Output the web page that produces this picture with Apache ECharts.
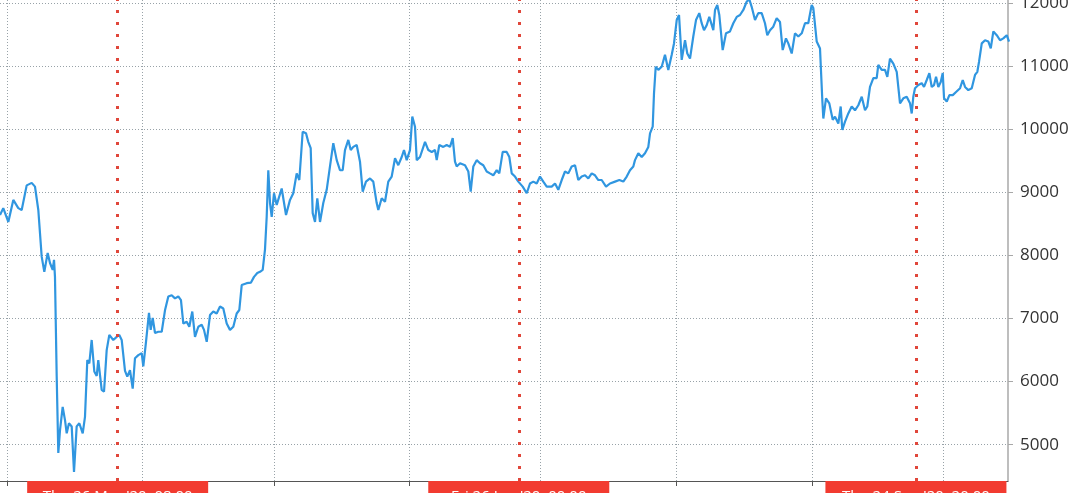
<!DOCTYPE html>
<html><head><meta charset="utf-8">
<script src="https://cdn.jsdelivr.net/npm/echarts@6/dist/echarts.min.js"></script>
<style>html,body{margin:0;padding:0;background:#fff;overflow:hidden}#c{width:1080px;height:493px}</style>
</head><body><div id="c"></div>
<script>
// days since 2020-03-01 00:00 (local)
const days = [
-1.60,-0.85,0.30,1.44,2.58,3.36,4.50,5.65,6.40,7.16,7.93,8.53,9.30,9.83,10.45,10.75,10.97,11.36,11.73,12.12,12.73,13.26,13.65,14.17,14.79,15.32,15.93,16.53,17.31,17.83,18.36,18.82,19.36,19.96,20.51,20.87,21.65,22.18,22.79,23.39,24.30,25.08,25.67,26.22,26.98,27.50,28.12,28.74,29.26,30.02,30.80,31.16,31.78,32.46,32.85,33.31,33.84,34.59,35.37,36.12,36.88,37.65,38.41,39.16,
39.77,40.31,41.08,41.68,42.36,42.98,43.74,44.51,45.04,45.66,46.41,47.16,47.94,48.70,49.45,50.23,50.98,51.74,52.51,53.11,53.66,54.80,55.78,56.47,57.22,57.84,58.46,58.98,59.37,59.74,60.13,60.52,61.04,61.66,62.80,63.79,64.70,65.45,66.23,66.83,67.60,68.36,68.88,69.43,69.89,70.42,70.94,71.56,72.31,73.09,73.84,74.60,75.38,76.13,76.75,77.27,78.03,78.58,79.17,79.95,80.70,81.32,82.07,82.99,83.74,84.52,84.89,85.66,86.42,87.17,87.95,88.71,89.46,90.24,90.76,91.38,92.13,92.66,93.28,93.67,94.42,95.57,96.32,97.10,97.85,98.24,98.83,99.75,100.52,101.28,101.90,102.42,102.81,103.57,104.71,105.47,106.01,106.61,107.38,108.14,
108.89,109.67,110.42,111.18,111.96,112.55,113.33,114.24,114.84,115.39,116.14,116.90,117.90,118.82,119.57,120.33,121.10,121.86,122.61,123.39,124.53,125.29,126.04,126.82,127.57,128.33,129.10,129.86,130.61,131.39,132.15,132.90,133.68,134.43,135.19,135.96,136.95,137.86,139.01,139.99,140.90,141.68,142.43,143.19,143.57,144.33,145.11,145.86,146.62,147.01,147.62,147.92,148.31,148.90,149.68,150.43,151.19,151.97,152.49,153.11,153.64,154.25,155.01,155.53,156.15,156.90,157.52,158.27,158.82,159.35,159.97,160.56,161.48,161.87,162.39,162.85,163.62,164.38,165.29,166.05,166.83,167.58,168.34,169.10,169.70,170.25,171.01,171.76,172.54,173.29,173.82,174.44,175.19,175.97,176.72,
177.34,178.09,178.62,179.40,180.15,180.91,181.69,182.44,183.19,183.97,184.34,185.12,185.87,186.40,186.63,187.24,188.00,188.78,189.30,190.06,190.60,190.97,191.59,192.34,193.12,193.87,194.63,195.41,196.16,196.68,197.30,198.06,198.83,199.20,199.98,200.73,201.26,201.87,202.63,203.41,204.16,204.92,205.69,206.45,206.84,207.20,207.59,208.35,209.13,209.65,210.27,210.87,211.41,211.94,212.40,212.92,213.47,213.93,214.23,214.85,215.45,216.22,216.97,217.89,218.50,219.03,219.78,220.56,220.93,221.31,221.84,222.23,222.85,223.60,224.36,224.91,225.50,226.28,227.03,227.78,228.56,229.08
];
const prices = [
8640,8750,8530,8880,8750,8720,9110,9150,9090,8720,7980,7740,8040,7880,7770,7930,7660,6090,4870,5230,5600,5390,5180,5340,5290,4570,5290,5340,5180,5440,6340,6290,6660,6160,6090,6340,5870,5840,6500,6740,6660,6710,6740,6660,6170,6080,6180,5890,6370,6420,6450,6240,6630,7090,6820,7010,6770,6790,6790,7130,7350,7370,7320,7350,
7290,6920,6950,6870,7110,6710,6870,6900,6820,6630,7055,7110,7080,7190,7160,6920,6820,6870,7080,7135,7530,7560,7570,7660,7720,7740,7770,8090,8610,9350,8830,8610,8985,8800,9060,8640,8880,8985,9300,9195,9960,9935,9800,9700,8670,8530,8905,8530,8830,9040,9410,9780,9510,9350,9350,9670,9830,9670,9720,9750,9485,9010,9170,9220,9170,8830,8720,8905,8850,9170,9250,9540,9430,9560,9670,9510,9670,10200,10040,9510,9560,9800,9670,9640,9670,9510,9750,9720,9750,9720,9860,9485,9410,9460,9430,9330,9010,9410,9510,9460,
9430,9330,9300,9270,9350,9300,9640,9640,9560,9300,9250,9170,9090,8985,9140,9170,9140,9250,9170,9090,9090,9140,9040,9195,9330,9300,9410,9430,9195,9250,9270,9220,9300,9270,9195,9195,9090,9140,9170,9195,9170,9250,9350,9410,9510,9620,9560,9620,9720,9935,10040,10570,10990,10940,10990,11180,10940,11180,11360,11730,11810,11100,11410,11200,11120,11470,11730,11840,11680,11570,11650,11780,11570,11890,11970,11810,11255,11520,11550,11680,11780,11810,11890,12020,12060,11940,11730,11840,11840,11680,11490,11570,11625,11760,11700,
11255,11440,11360,11200,11520,11470,11520,11680,11680,11970,11920,11390,11280,10460,10170,10490,10410,10150,10200,10090,10360,9990,10120,10250,10360,10300,10380,10515,10300,10360,10670,10810,10810,11020,10940,10940,10830,11120,11040,10910,10410,10490,10515,10410,10250,10515,10650,10700,10730,10670,10780,10890,10670,10700,10830,10670,10750,10890,10490,10440,10540,10540,10590,10650,10780,10670,10620,10650,10620,10860,10910,11070,11360,11410,11390,11280,11550,11490,11410,11440,11490,11390
];
const markerDays = [25.3, 117.0, 207.8];
const markerLabels = ["Thu 26 Mar '20  08:00", "Fri 26 Jun '20  00:00", "Thu 24 Sep '20  20:00"];
const monthNames = ['Jan','Feb','Mar','Apr','May','Jun','Jul','Aug','Sep','Oct','Nov','Dec'];
const xRangeDays = [-1.6, 228.85];
const yRange = [4425, 12048];
const yStep = 1000;

const base = new Date(2020, 2, 1).getTime();
const DAY = 86400000;
const toTime = d => base + d * DAY;
const data = days.map((d, i) => [toTime(d), prices[i]]);

const gridLine = { type: [1, 2], color: '#98a2a8', width: 1 };
const chart = echarts.init(document.getElementById('c'), null, { renderer: 'canvas' });
chart.setOption({
  animation: false,
  backgroundColor: '#ffffff',
  textStyle: { fontFamily: 'Open Sans' },
  grid: { left: 0, right: 72, top: 0, bottom: 12, containLabel: false, outerBoundsMode: 'none' },
  xAxis: {
    type: 'time',
    min: toTime(xRangeDays[0]),
    max: toTime(xRangeDays[1]),
    splitNumber: 8,
    axisLine: { show: true, lineStyle: { color: '#555', width: 1 } },
    axisTick: { show: true, length: 5, lineStyle: { color: '#555' } },
    axisLabel: {
      show: true, margin: 11, fontSize: 16, color: '#555', fontFamily: 'Open Sans',
      showMinLabel: false, showMaxLabel: false,
      formatter: v => monthNames[new Date(v).getMonth()]
    },
    splitLine: { show: true, showMinLine: false, showMaxLine: false, lineStyle: gridLine }
  },
  yAxis: {
    type: 'value',
    position: 'right',
    min: yRange[0],
    max: yRange[1],
    minInterval: yStep,
    maxInterval: yStep,
    scale: true,
    axisLine: { show: true, lineStyle: { color: '#a8a8a8', width: 1.5 } },
    axisTick: { show: true, length: 5, lineStyle: { color: '#a8a8a8' } },
    axisLabel: {
      margin: 12, fontSize: 17, color: '#333', fontFamily: 'Open Sans',
      showMinLabel: false, showMaxLabel: false,
      formatter: v => String(v)
    },
    splitLine: { show: true, showMinLine: false, showMaxLine: false, lineStyle: gridLine }
  },
  series: [{
    type: 'line',
    data: data,
    showSymbol: false,
    symbol: 'none',
    clip: true,
    lineStyle: { color: '#3096e0', width: 2.2 },
    markLine: {
      silent: true,
      symbol: ['none', 'none'],
      lineStyle: { type: [3, 9], width: 3, color: '#e0463a' },
      label: {
        show: true, position: 'start', distance: 0,
        backgroundColor: '#f23b30', color: '#fff', fontSize: 15, fontFamily: 'Open Sans',
        padding: [8, 0], width: 181, align: 'center'
      },
      data: markerDays.map((d, i) => ({ xAxis: toTime(d), label: { formatter: markerLabels[i] } }))
    }
  }]
});
</script></body></html>
